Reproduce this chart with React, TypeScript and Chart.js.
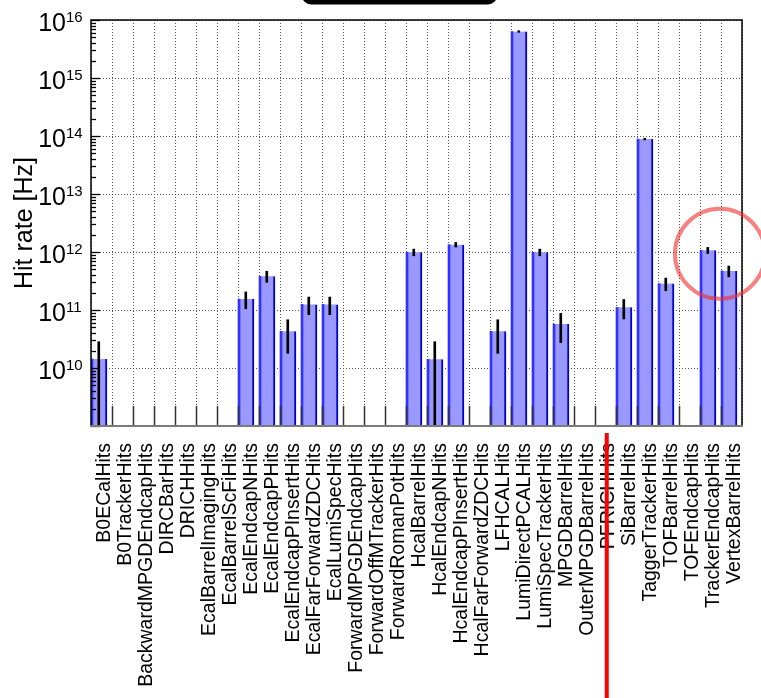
import { useEffect, useRef } from 'react';
import { Chart, registerables } from 'chart.js';

Chart.register(...registerables);

// Detector collections (one bin each)
const CATEGORIES = [
  'B0ECalHits', 'B0TrackerHits', 'BackwardMPGDEndcapHits', 'DIRCBarHits', 'DRICHHits',
  'EcalBarrelImagingHits', 'EcalBarrelScFiHits', 'EcalEndcapNHits', 'EcalEndcapPHits',
  'EcalEndcapPInsertHits', 'EcalFarForwardZDCHits', 'EcalLumiSpecHits', 'ForwardMPGDEndcapHits',
  'ForwardOffMTrackerHits', 'ForwardRomanPotHits', 'HcalBarrelHits', 'HcalEndcapNHits',
  'HcalEndcapPInsertHits', 'HcalFarForwardZDCHits', 'LFHCALHits', 'LumiDirectPCALHits',
  'LumiSpecTrackerHits', 'MPGDBarrelHits', 'OuterMPGDBarrelHits', 'PFRICHHits', 'SiBarrelHits',
  'TaggerTrackerHits', 'TOFBarrelHits', 'TOFEndcapHits', 'TrackerEndcapHits', 'VertexBarrelHits',
];

// Hit rate per collection [Hz]; 0 = no hits
const HIT_RATE = [
  1.43e10, 0, 0, 0, 0,
  0, 0, 1.55e11, 3.82e11,
  4.29e10, 1.25e11, 1.25e11, 0,
  0, 0, 9.9e11, 1.41e10,
  1.34e12, 0, 4.29e10, 6.33e15,
  9.9e11, 5.73e10, 0, 0, 1.11e11,
  8.87e13, 2.85e11, 0, 1.07e12, 4.72e11,
];

// Symmetric uncertainty on the hit rate [Hz]
const HIT_RATE_ERR = [
  1.41e10, 0, 0, 0, 0,
  0, 0, 5.0e10, 8.2e10,
  2.5e10, 4.2e10, 4.2e10, 0,
  0, 0, 1.3e11, 1.43e10,
  1.2e11, 0, 2.5e10, 2.0e14,
  1.3e11, 3.0e10, 0, 0, 4.1e10,
  3.0e12, 7.0e10, 0, 1.3e11, 1.0e11,
];

const Y_MIN = 1e9;
const Y_MAX = 1e16;
const Y_LABEL_EXPONENTS = [10, 11, 12, 13, 14, 15, 16];

// Highlights
const STRUCK_CATEGORY = 'PFRICHHits';
const RING_CENTER = { x: 29.95, y: 9.3e11 };

// Placement inside a bin (fraction of the bin width)
const BAR_POS = 0.38;
const EDGE_POS = 0.048;
const ERR_POS = 0.37;
const LABEL_POS = 0.64;

const FONT = "'Liberation Sans', Arial, Helvetica, sans-serif";

const isDecade = (v: number) => Math.abs(Math.log10(v) - Math.round(Math.log10(v))) < 1e-6;

const filled = HIT_RATE.map((v, i) => ({ v, i })).filter((d) => d.v > 0);

const rootStylePlugin = {
  id: 'rootStyle',
  afterDatasetsDraw(chart: any) {
    const { ctx, chartArea: a, scales } = chart;
    const xs = scales.x;
    const ys = scales.y;
    ctx.save();
    // bin-edge ticks along the bottom axis
    ctx.strokeStyle = '#333';
    ctx.lineWidth = 1.5;
    for (let i = 1; i < CATEGORIES.length; i++) {
      const px = Math.round(xs.getPixelForValue(i)) + 0.5;
      ctx.beginPath();
      ctx.moveTo(px, a.bottom);
      ctx.lineTo(px, a.bottom - 20);
      ctx.stroke();
    }
    // logarithmic ticks on the left axis
    ctx.strokeStyle = '#000';
    ctx.lineWidth = 1.3;
    for (let e = Math.log10(Y_MIN); e < Math.log10(Y_MAX); e++) {
      for (let m = 1; m <= 9; m++) {
        const py = Math.round(ys.getPixelForValue(m * Math.pow(10, e))) + 0.5;
        ctx.beginPath();
        ctx.moveTo(a.left, py);
        ctx.lineTo(a.left + (m === 1 ? 9 : 5), py);
        ctx.stroke();
      }
    }
    const pt = Math.round(ys.getPixelForValue(Y_MAX)) + 0.5;
    ctx.beginPath();
    ctx.moveTo(a.left, pt);
    ctx.lineTo(a.left + 9, pt);
    ctx.stroke();
    // frame
    ctx.lineWidth = 1.5;
    ctx.strokeStyle = '#000';
    ctx.beginPath();
    ctx.moveTo(a.left, a.bottom);
    ctx.lineTo(a.left, a.top);
    ctx.lineTo(a.right, a.top);
    ctx.lineTo(a.right, a.bottom);
    ctx.stroke();
    ctx.strokeStyle = '#7a7a7a';
    ctx.lineWidth = 2;
    ctx.beginPath();
    ctx.moveTo(a.left - 1, a.bottom);
    ctx.lineTo(a.right + 1, a.bottom);
    ctx.stroke();
    ctx.restore();
  },
  afterDraw(chart: any) {
    const { ctx, chartArea: a, scales } = chart;
    const ys = scales.y;
    ctx.save();
    // decade labels 10^n
    ctx.fillStyle = '#000';
    for (const e of Y_LABEL_EXPONENTS) {
      const py = ys.getPixelForValue(Math.pow(10, e));
      ctx.font = `25px ${FONT}`;
      ctx.textAlign = 'right';
      ctx.textBaseline = 'alphabetic';
      ctx.fillText('10', a.left - 25, py + 11);
      ctx.font = `15px ${FONT}`;
      ctx.textAlign = 'left';
      ctx.fillText(String(e), a.left - 25, py + 1.5);
    }
    // strike-through of a retired collection
    const si = CATEGORIES.indexOf(STRUCK_CATEGORY);
    const sx = scales.xl.getPixelForValue(si + LABEL_POS - 0.08);
    ctx.strokeStyle = '#ff0000';
    ctx.lineWidth = 4;
    ctx.beginPath();
    ctx.moveTo(sx, a.bottom + 7);
    ctx.lineTo(sx, chart.height);
    ctx.stroke();
    // highlight ring
    ctx.strokeStyle = 'rgba(238, 45, 45, 0.6)';
    ctx.lineWidth = 4;
    ctx.beginPath();
    ctx.arc(scales.x.getPixelForValue(RING_CENTER.x), ys.getPixelForValue(RING_CENTER.y), 45, 0, Math.PI * 2);
    ctx.stroke();
    // title box
    ctx.fillStyle = '#000';
    ctx.beginPath();
    ctx.roundRect(302, -16, 195, 20.5, 9);
    ctx.fill();
    ctx.restore();
  },
};

export default function App() {
  const ref = useRef<HTMLCanvasElement>(null);

  useEffect(() => {
    const chart = new Chart(ref.current as HTMLCanvasElement, {
      type: 'bar',
      data: {
        datasets: [
          {
            label: 'rate',
            data: filled.map((d) => ({ x: d.i + BAR_POS, y: [Y_MIN, d.v] })) as any,
            backgroundColor: 'rgb(153, 153, 255)',
            borderColor: 'rgb(0, 0, 200)',
            borderWidth: { top: 0, right: 2, bottom: 0, left: 0 },
            borderSkipped: false,
            barThickness: 16,
            grouped: false,
            order: 3,
          },
          {
            label: 'edge',
            data: filled.map((d) => ({ x: d.i + EDGE_POS, y: [Y_MIN, d.v] })) as any,
            backgroundColor: 'rgb(50, 50, 255)',
            borderWidth: 0,
            barThickness: 2,
            grouped: false,
            order: 2,
          },
          {
            label: 'error',
            data: filled.map((d) => {
              const err = HIT_RATE_ERR[d.i];
              const lo = Math.max(d.v - err, Y_MIN);
              return { x: d.i + ERR_POS, y: [lo, d.v + err] };
            }) as any,
            backgroundColor: '#000',
            borderWidth: 0,
            barThickness: 2,
            grouped: false,
            order: 1,
          },
        ],
      },
      options: {
        responsive: false,
        devicePixelRatio: 1,
        animation: false,
        layout: { padding: { top: 20, right: 19, bottom: 0, left: 0 } },
        plugins: { legend: { display: false }, tooltip: { enabled: false } },
        scales: {
          x: {
            type: 'linear',
            position: 'bottom',
            weight: 0,
            min: 0,
            max: CATEGORIES.length,
            offset: false,
            afterBuildTicks: (s: any) => {
              s.ticks = CATEGORIES.map((_, i) => ({ value: i })).concat([{ value: CATEGORIES.length }]);
            },
            afterFit: (s: any) => {
              s.height = 0;
              s.paddingLeft = 0;
              s.paddingRight = 0;
            },
            ticks: { display: false },
            grid: { offset: false, drawTicks: false, color: '#555', lineWidth: 1 },
            border: { display: false, dash: [1, 2] },
          },
          xl: {
            type: 'linear',
            position: 'bottom',
            weight: 1,
            min: 0,
            max: CATEGORIES.length,
            offset: false,
            afterBuildTicks: (s: any) => {
              s.ticks = CATEGORIES.map((_, i) => ({ value: i + LABEL_POS }));
            },
            afterFit: (s: any) => {
              s.height = 272;
              s.paddingLeft = 0;
              s.paddingRight = 0;
            },
            ticks: {
              autoSkip: false,
              minRotation: 90,
              maxRotation: 90,
              padding: 17,
              color: '#000',
              font: { family: FONT, size: 19.5 },
              callback: (_v: any, i: number) => CATEGORIES[i],
            },
            grid: { display: false, offset: false, drawTicks: false },
            border: { display: false },
          },
          y: {
            type: 'logarithmic',
            min: Y_MIN,
            max: Y_MAX,
            afterFit: (s: any) => {
              s.width = 91;
              s.paddingTop = 0;
              s.paddingBottom = 0;
            },
            ticks: { display: false },
            grid: {
              drawTicks: false,
              lineWidth: 1,
              color: (c: any) => (c.tick && isDecade(c.tick.value) ? '#555' : 'rgba(0,0,0,0)'),
            },
            border: { display: false, dash: [1, 2] },
            title: {
              display: true,
              text: 'Hit rate [Hz]',
              color: '#000',
              font: { family: FONT, size: 25 },
              padding: { top: 10, bottom: 0 },
            },
          },
        },
      },
      plugins: [rootStylePlugin],
    });
    return () => chart.destroy();
  }, []);

  return (
    <div style={{ position: 'absolute', left: 0, top: 0, width: 761, height: 698, background: '#fff' }}>
      <canvas ref={ref} width={761} height={698} style={{ display: 'block' }} />
    </div>
  );
}
